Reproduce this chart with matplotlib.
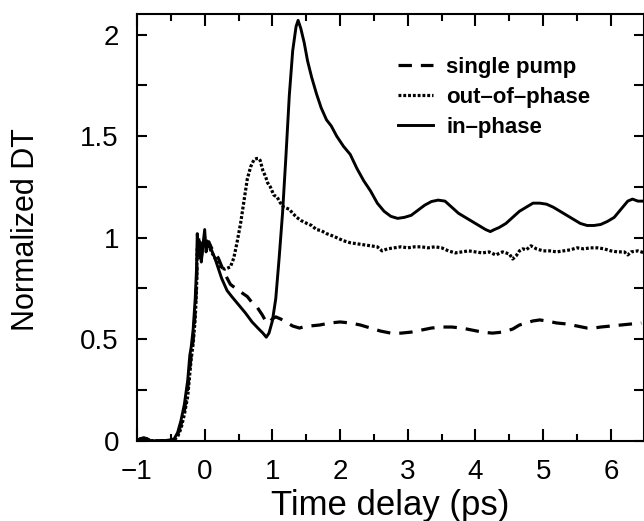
import matplotlib
matplotlib.use("Agg")
import matplotlib.pyplot as plt
from matplotlib.ticker import MultipleLocator

plt.rcParams['font.family'] = ['Liberation Sans', 'DejaVu Sans']

# ---- data ----
rise_x = [-1.0, -0.95, -0.9, -0.85, -0.8, -0.7, -0.6, -0.5, -0.45, -0.4, -0.35, -0.3,
          -0.25, -0.22, -0.2, -0.17, -0.14, -0.12, -0.11, -0.09, -0.07, -0.05, -0.03, 0.0]

inphase_x = rise_x + [0.02, 0.05, 0.1, 0.15, 0.2, 0.25, 0.33, 0.4, 0.5, 0.6, 0.7, 0.8, 0.86,
                      0.91, 0.95, 1.0, 1.05, 1.1, 1.15, 1.2, 1.25, 1.3, 1.35, 1.38, 1.42,
                      1.47, 1.52, 1.58, 1.65, 1.72, 1.8, 1.87, 1.95, 2.05, 2.15, 2.25, 2.35,
                      2.45, 2.55, 2.65, 2.75, 2.85, 2.95, 3.05, 3.15, 3.25, 3.35, 3.45, 3.55,
                      3.65, 3.75, 3.85, 3.95, 4.05, 4.15, 4.22, 4.28, 4.35, 4.45, 4.55, 4.65,
                      4.75, 4.85, 4.95, 5.05, 5.15, 5.25, 5.35, 5.45, 5.55, 5.65, 5.75, 5.85,
                      5.95, 6.05, 6.15, 6.25, 6.32, 6.4, 6.5]
inphase_y = [0.0, 0.01, 0.015, 0.01, 0.0, 0.0, 0.0, 0.005, 0.01, 0.04, 0.1, 0.18,
             0.3, 0.42, 0.46, 0.55, 0.7, 0.85, 1.02, 0.92, 0.98, 0.88, 0.95, 1.04,
             0.93, 0.97, 0.94, 0.9, 0.85, 0.8, 0.74, 0.71, 0.67, 0.63, 0.585, 0.55, 0.53,
             0.51, 0.53, 0.59, 0.7, 0.9, 1.12, 1.4, 1.7, 1.92, 2.04, 2.07, 2.03,
             1.96, 1.87, 1.79, 1.71, 1.64, 1.58, 1.55, 1.5, 1.45, 1.41, 1.34, 1.28,
             1.23, 1.17, 1.13, 1.105, 1.095, 1.1, 1.11, 1.135, 1.16, 1.178, 1.185, 1.18,
             1.15, 1.12, 1.1, 1.08, 1.06, 1.04, 1.03, 1.04, 1.05, 1.07, 1.1, 1.13,
             1.15, 1.17, 1.17, 1.165, 1.15, 1.13, 1.11, 1.09, 1.07, 1.06, 1.06, 1.065,
             1.08, 1.1, 1.14, 1.18, 1.19, 1.18, 1.18]

single_x = rise_x + [0.03, 0.06, 0.1, 0.2, 0.3, 0.38, 0.5, 0.63, 0.7, 0.77, 0.85, 0.9, 0.95,
                     1.0, 1.05, 1.12, 1.2, 1.3, 1.4, 1.45, 1.55, 1.7, 1.85, 2.0, 2.15,
                     2.3, 2.45, 2.6, 2.75, 2.9, 3.05, 3.2, 3.35, 3.5, 3.65, 3.8, 3.95,
                     4.1, 4.25, 4.4, 4.55, 4.65, 4.75, 4.85, 4.95, 5.05, 5.2, 5.35, 5.5,
                     5.65, 5.75, 5.85, 6.0, 6.15, 6.3, 6.45]
single_y = [0.0, 0.01, 0.012, 0.008, 0.0, 0.0, 0.0, 0.0, 0.005, 0.03, 0.08, 0.15,
            0.26, 0.36, 0.42, 0.5, 0.64, 0.78, 0.9, 0.93, 0.96, 0.9, 0.95, 0.99,
            0.97, 0.98, 0.95, 0.9, 0.82, 0.77, 0.74, 0.71, 0.68, 0.66, 0.62, 0.59, 0.58,
            0.6, 0.61, 0.6, 0.585, 0.565, 0.555, 0.56, 0.565, 0.57, 0.58, 0.585, 0.58,
            0.57, 0.555, 0.54, 0.53, 0.53, 0.535, 0.545, 0.555, 0.56, 0.56, 0.555, 0.545,
            0.535, 0.53, 0.535, 0.55, 0.57, 0.58, 0.59, 0.595, 0.59, 0.58, 0.575, 0.565,
            0.555, 0.555, 0.56, 0.565, 0.57, 0.575, 0.58]

outphase_x = rise_x + [0.05, 0.1, 0.15, 0.2, 0.25, 0.3, 0.38, 0.43, 0.48, 0.53, 0.58, 0.63,
                       0.68, 0.73, 0.77, 0.8, 0.82, 0.86, 0.9, 0.93, 0.97, 1.02, 1.07, 1.12,
                       1.17, 1.25, 1.3, 1.36, 1.42, 1.51, 1.58, 1.65, 1.72, 1.8, 1.88, 1.95,
                       2.05, 2.15, 2.25, 2.35, 2.45, 2.55, 2.62, 2.7, 2.8, 2.9, 3.0, 3.1,
                       3.2, 3.3, 3.4, 3.5, 3.6, 3.7, 3.8, 3.9, 4.0, 4.1, 4.2, 4.3, 4.4,
                       4.5, 4.55, 4.6, 4.65, 4.7, 4.75, 4.82, 4.9, 5.0, 5.1, 5.2, 5.3, 5.4,
                       5.5, 5.6, 5.7, 5.8, 5.9, 6.0, 6.1, 6.2, 6.25, 6.3, 6.4, 6.5]
outphase_y = [0.0, 0.008, 0.01, 0.006, 0.0, 0.0, 0.0, 0.0, 0.004, 0.02, 0.06, 0.13,
              0.22, 0.33, 0.4, 0.48, 0.6, 0.75, 0.95, 1.0, 0.9, 0.93, 0.96, 1.0,
              0.97, 0.93, 0.9, 0.87, 0.85, 0.845, 0.856, 0.9, 0.98, 1.07, 1.18, 1.29,
              1.35, 1.385, 1.39, 1.39, 1.38, 1.33, 1.3, 1.27, 1.25, 1.21, 1.2, 1.17,
              1.15, 1.14, 1.12, 1.1, 1.085, 1.07, 1.06, 1.04, 1.035, 1.02, 1.01, 1.0,
              0.985, 0.975, 0.97, 0.965, 0.96, 0.955, 0.935, 0.945, 0.95, 0.955, 0.95, 0.955,
              0.955, 0.95, 0.955, 0.95, 0.935, 0.925, 0.93, 0.935, 0.93, 0.925, 0.93, 0.915, 0.93,
              0.92, 0.895, 0.91, 0.935, 0.945, 0.94, 0.96, 0.945, 0.935, 0.935, 0.93, 0.935, 0.94,
              0.95, 0.945, 0.95, 0.95, 0.945, 0.935, 0.93, 0.93, 0.915, 0.93, 0.935, 0.925]

labels = ['single pump', 'out\u2013of\u2013phase', 'in\u2013phase']
xticks = [-1, 0, 1, 2, 3, 4, 5, 6]
yticks = [0, 0.5, 1, 1.5, 2]
ytick_labels = ['0', '0.5', '1', '1.5', '2']

# ---- figure ----
fig = plt.figure(figsize=(6.44, 5.21), dpi=100)
ax = fig.add_axes([137 / 644, 0.154, 1 - 137 / 644, 0.8186])

ax.plot(single_x, single_y, color='black', lw=2.3, linestyle=(0, (4.2, 2.8)), label=labels[0])
ax.plot(outphase_x, outphase_y, color='black', lw=2.3, linestyle=(0, (0.9, 0.6)), label=labels[1])
ax.plot(inphase_x, inphase_y, color='black', lw=2.1, linestyle='-', label=labels[2])

ax.set_xlim(-1, 6.49)
ax.set_ylim(0, 2.1)

ax.set_xticks(xticks)
ax.set_xticklabels(['\u2212' + str(-t) if t < 0 else str(t) for t in xticks])
ax.xaxis.set_minor_locator(MultipleLocator(0.5))
ax.set_yticks(yticks)
ax.set_yticklabels(ytick_labels)
ax.yaxis.set_minor_locator(MultipleLocator(0.25))

ax.tick_params(axis='both', which='both', direction='in', top=True, right=True,
               width=1.5, labelsize=20, pad=13)
ax.tick_params(axis='x', which='major', length=8.3)
ax.tick_params(axis='x', which='minor', length=4.9)
ax.tick_params(axis='y', which='both', length=7)
for s in ax.spines.values():
    s.set_linewidth(1.5)

ax.set_xlabel('Time delay (ps)', fontsize=25)
ax.set_ylabel('Normalized DT', fontsize=22)
ax.xaxis.set_label_coords(0.5, -0.112)
ax.yaxis.set_label_coords(-0.19, 0.495)

leg = ax.legend(loc='upper left', bbox_to_anchor=(398 / 644, 1 - 57 / 521),
                bbox_transform=fig.transFigure, frameon=False,
                prop={'weight': 'bold', 'size': 16}, handlelength=1.58,
                handletextpad=0.58, labelspacing=0.41, borderpad=0, borderaxespad=0)

fig.savefig('out.png', dpi=100)
